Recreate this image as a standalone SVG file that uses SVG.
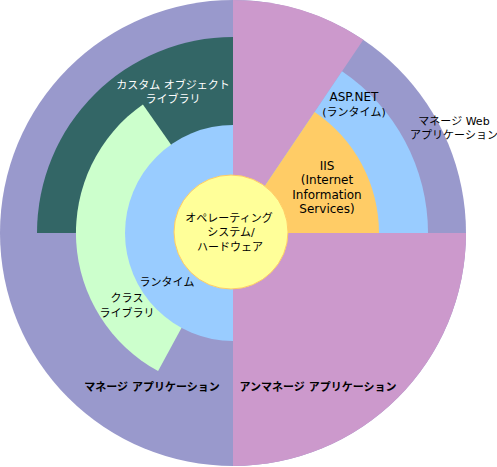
<svg xmlns="http://www.w3.org/2000/svg" width="497" height="467" viewBox="0 0 497 467">
<style>
text{font-family:"DejaVu Sans","Noto Sans CJK JP",sans-serif;font-size:11px;text-anchor:middle;fill:#000}
.w{fill:#fff}
.b{font-weight:bold}
.lat{font-size:12px}
</style>
<rect width="497" height="467" fill="#fff"/>
<g id="managed-app">
<circle cx="233" cy="233" r="233" fill="#9999CC"/>
<text class="b" x="152" y="391">マネージ アプリケーション</text>
</g>
<g id="unmanaged-app">
<path d="M233,233 L466,233 A233,233 0 0 1 233,466 Z" fill="#CC99CC"/>
<path d="M233,233 L233,0 A233,233 0 0 1 363.3,39.8 Z" fill="#CC99CC"/>
<text class="b" x="318" y="391">アンマネージ アプリケーション</text>
</g>
<g id="managed-web">
<text x="454" y="125">マネージ Web</text>
<text x="454" y="139">アプリケーション</text>
</g>
<g id="custom-lib">
<path d="M233,233 L233,37 A196,196 0 0 0 37,233 Z" fill="#336666"/>
<text class="w" x="173" y="89">カスタム オブジェクト</text>
<text class="w" x="173" y="103">ライブラリ</text>
</g>
<g id="class-lib">
<path d="M233,233 L142.9,104.4 A157,157 0 0 0 158.1,371 Z" fill="#CCFFCC"/>
<text x="127" y="302">クラス</text>
<text x="127" y="317">ライブラリ</text>
</g>
<g id="runtime">
<path d="M233,125 A108,108 0 0 0 233,341 Z" fill="#99CCFF"/>
<text x="167" y="286">ランタイム</text>
</g>
<g id="aspnet">
<path d="M233,233 L342,71.3 A195,195 0 0 1 428,233 Z" fill="#99CCFF"/>
<text class="lat" x="354" y="101">ASP.NET</text>
<text x="354" y="116">(ランタイム)</text>
</g>
<g id="iis">
<path d="M233,233 L314.6,112 A146,146 0 0 1 379,233 Z" fill="#FFCC66"/>
<text class="lat" x="327" y="170">IIS</text>
<text class="lat" x="327" y="184">(Internet</text>
<text class="lat" x="327" y="199">Information</text>
<text class="lat" x="327" y="213">Services)</text>
</g>
<g id="os">
<circle cx="231" cy="232" r="57" fill="#FFFF99" stroke="#FFCC66" stroke-width="1"/>
<text x="229" y="222">オペレーティング</text>
<text x="231" y="236">システム/</text>
<text x="230" y="251">ハードウェア</text>
</g>
<g id="connectors"></g>
</svg>
